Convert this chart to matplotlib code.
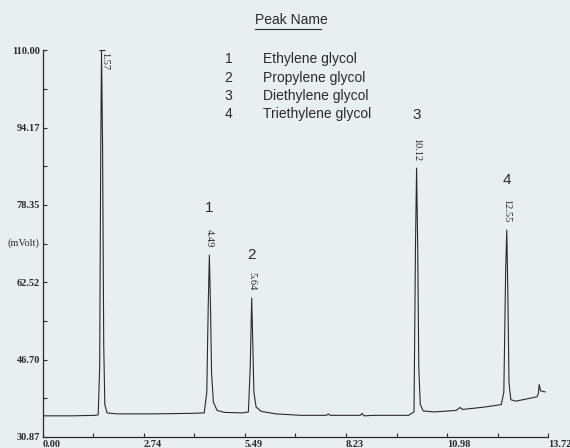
import numpy as np
import matplotlib
matplotlib.use('Agg')
from matplotlib import pyplot as plt
from matplotlib.lines import Line2D

# chromatogram trace (minutes, mVolt)
trace_t = [0.0, 0.8, 1.42, 1.50, 1.54, 1.57, 1.59, 1.62, 1.65, 1.68, 1.74, 2.0, 3.0, 4.0,
           4.38, 4.45, 4.49, 4.52, 4.55, 4.58, 4.63, 4.73, 4.93, 5.43, 5.58, 5.63, 5.67,
           5.70, 5.73, 5.79, 5.93, 6.33, 7.00, 7.70, 7.75, 7.80, 8.62, 8.67, 8.72, 9.00,
           9.93, 10.08, 10.12, 10.15, 10.18, 10.21, 10.25, 10.33, 10.63, 11.22, 11.33,
           11.40, 12.00, 12.45, 12.52, 12.57, 12.60, 12.63, 12.66, 12.71, 12.85, 13.42,
           13.46, 13.48, 13.52, 13.64]
trace_mv = [35.2, 35.2, 35.3, 35.4, 45.0, 90.0, 110.0, 90.0, 50.0, 37.5, 35.8, 35.6, 35.6, 35.7,
            35.8, 40.0, 58.0, 68.1, 58.0, 44.0, 38.0, 36.3, 35.9, 35.8, 36.0, 45.0, 59.3,
            50.0, 40.0, 37.0, 36.1, 35.6, 35.3, 35.3, 35.6, 35.3, 35.3, 35.7, 35.2, 35.3,
            35.3, 36.0, 70.0, 85.9, 70.0, 45.0, 37.5, 36.2, 36.0, 36.3, 36.9,
            36.5, 37.0, 37.5, 40.0, 65.0, 73.2, 60.0, 42.0, 38.5, 38.2, 39.1,
            39.8, 41.6, 40.3, 40.1]

peak_rt = [1.57, 4.49, 5.64, 10.12, 12.55]      # printed retention times
peak_x = [1.59, 4.52, 5.67, 10.15, 12.60]       # where the apex sits on the trace
peak_top = [110.0, 68.1, 59.3, 85.9, 73.2]
peak_num = ['', '1', '2', '3', '4']

names = ['Ethylene glycol', 'Propylene glycol', 'Diethylene glycol', 'Triethylene glycol']

ymin, ymax = 30.87, 110.00
xmax = 13.72
yticks = [30.87, 46.70, 62.52, 78.35, 94.17, 110.00]
xticks = [0.00, 2.74, 5.49, 8.23, 10.98, 13.72]

bg = '#e9eef1'
ink = '#2a2a2a'
serif = 'Liberation Serif'
sans = 'Liberation Sans'

# how far above each apex the peak number sits (mV)
num_gap = [0, 9.6, 8.8, 10.8, 10.2]

fig = plt.figure(figsize=(5.7, 4.48), dpi=100, facecolor=bg)
ax = fig.add_axes([0.0754, 0.0246, 0.886, 0.863], facecolor=bg)

ax.plot(trace_t, trace_mv, color=ink, lw=0.8)
ax.plot([peak_x[0]], [peak_top[0]], marker='_', ms=5, color=ink, mew=0.8)

ax.set_xlim(0, xmax)
ax.set_ylim(ymin, ymax)
for s in ['top', 'right']:
    ax.spines[s].set_visible(False)
for s in ['left', 'bottom']:
    ax.spines[s].set_color(ink)
    ax.spines[s].set_linewidth(0.9)

ax.set_xticks(xticks)
ax.set_xticks([(a + b) / 2 for a, b in zip(xticks[:-1], xticks[1:])], minor=True)
ax.set_yticks(yticks)
ax.set_yticks([(a + b) / 2 for a, b in zip(yticks[:-1], yticks[1:])], minor=True)
ax.set_xticklabels(['%.2f' % v for v in xticks], fontfamily=serif, fontsize=7.5,
                   fontweight='bold', ha='left')
ax.set_yticklabels(['%.2f' % v for v in yticks], fontfamily=serif, fontsize=7.5,
                   fontweight='bold')
ax.tick_params(axis='both', which='both', direction='in', length=3, width=0.8,
               color=ink, labelcolor=ink)
ax.tick_params(axis='x', pad=2)
ax.tick_params(axis='y', pad=2)

# retention time labels and peak numbers
for rt, px, top, num, gap in zip(peak_rt, peak_x, peak_top, peak_num, num_gap):
    if num == '':
        ax.text(px + 0.08, top - 0.3, '%.2f' % rt, rotation=270, ha='center', va='top',
                fontfamily=serif, fontsize=7.5, color=ink)
        continue
    ax.text(px, top + 1.5, '%.2f' % rt, rotation=270, ha='center', va='bottom',
            fontfamily=serif, fontsize=7.5, color=ink)
    ax.text(px, top + gap, num, ha='center', va='center', fontfamily=sans,
            fontsize=11, color=ink)

fig.text(0.014, 0.457, '(mVolt)', fontfamily=serif, fontsize=7.5, color=ink,
         ha='left', va='center')

# peak name table
fig.text(0.447, 0.955, 'Peak Name', fontfamily=sans, fontsize=10, color=ink,
         ha='left', va='center')
fig.add_artist(Line2D([0.447, 0.564], [0.935, 0.935], color=ink, lw=0.8))
for i, nm in enumerate(names):
    yy = 0.868 - i * 0.041
    fig.text(0.394, yy, str(i + 1), fontfamily=sans, fontsize=10, color=ink,
             ha='left', va='center')
    fig.text(0.461, yy, nm, fontfamily=sans, fontsize=10, color=ink,
             ha='left', va='center')

fig.savefig('out.png', dpi=100, facecolor=bg)
